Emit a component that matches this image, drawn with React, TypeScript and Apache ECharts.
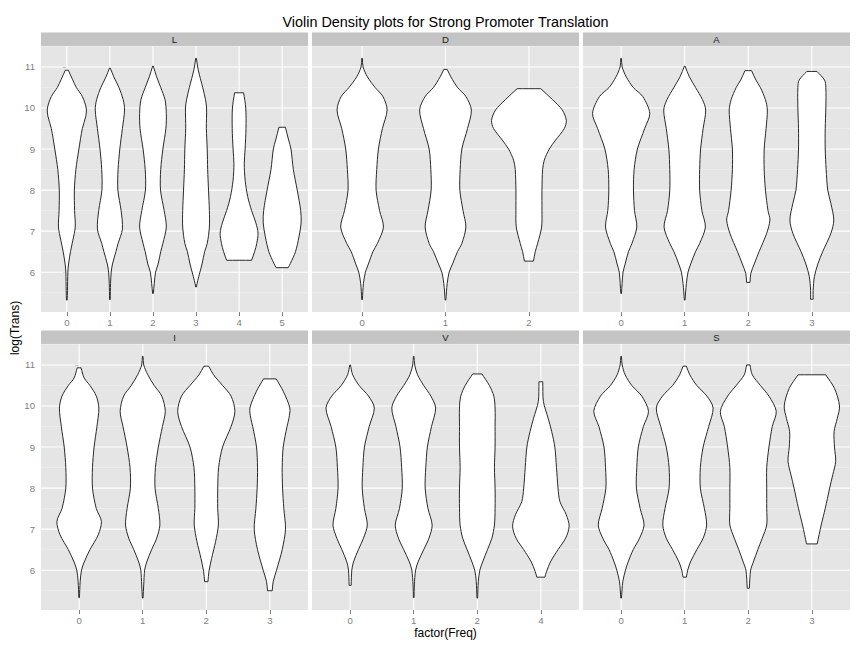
import React, { useEffect, useRef } from 'react';
import * as echarts from 'echarts';

// ---- categories / labels ----
const panelLabels = ['L', 'D', 'A', 'I', 'V', 'S'];
const catsL = ['0', '1', '2', '3', '4', '5'];
const catsD = ['0', '1', '2'];
const catsA = ['0', '1', '2', '3'];
const catsI = ['0', '1', '2', '3'];
const catsV = ['0', '1', '2', '4'];
const catsS = ['0', '1', '2', '3'];
const yTicks = [6, 7, 8, 9, 10, 11];
const yMinor = [5.5, 6.5, 7.5, 8.5, 9.5, 10.5, 11.5];
const Y_MIN = 5.03;
const Y_MAX = 11.51;

// ---- violin outlines: [log(Trans), half width in category units], bottom -> top ----
const violinL0 = [[5.32, 0.008], [5.55, 0.015], [6.0, 0.023], [6.2, 0.04], [6.5, 0.085], [6.78, 0.14], [7.1, 0.195], [7.5, 0.18], [8.0, 0.175], [8.5, 0.21], [9.0, 0.28], [9.5, 0.36], [9.8, 0.44], [10.0, 0.45], [10.28, 0.36], [10.5, 0.22], [10.7, 0.13], [10.92, 0.035]];
const violinL1 = [[5.33, 0.008], [5.72, 0.015], [6.0, 0.03], [6.2, 0.06], [6.5, 0.14], [6.7, 0.19], [7.05, 0.29], [7.5, 0.26], [8.0, 0.185], [8.5, 0.19], [9.0, 0.23], [9.5, 0.29], [9.95, 0.34], [10.2, 0.31], [10.5, 0.21], [10.76, 0.09], [10.97, 0.01]];
const violinL2 = [[5.48, 0.008], [5.72, 0.03], [6.0, 0.06], [6.2, 0.12], [6.5, 0.18], [6.7, 0.23], [7.1, 0.31], [7.5, 0.26], [8.0, 0.175], [8.5, 0.18], [9.0, 0.23], [9.5, 0.3], [9.87, 0.31], [10.2, 0.28], [10.5, 0.18], [10.76, 0.085], [11.02, 0.008]];
const violinL3 = [[5.64, 0.008], [5.8, 0.04], [6.0, 0.09], [6.2, 0.14], [6.5, 0.2], [6.7, 0.26], [7.1, 0.31], [7.5, 0.31], [8.0, 0.29], [8.5, 0.27], [9.0, 0.26], [9.5, 0.24], [10.0, 0.245], [10.2, 0.22], [10.5, 0.155], [10.93, 0.05], [11.21, 0.008]];
const violinL4 = [[6.29, 0.29], [6.5, 0.36], [6.7, 0.41], [6.95, 0.44], [7.2, 0.39], [7.5, 0.29], [7.84, 0.2], [8.24, 0.14], [8.65, 0.12], [9.0, 0.14], [9.5, 0.16], [10.0, 0.155], [10.37, 0.105]];
const violinL5 = [[6.11, 0.14], [6.21, 0.19], [6.5, 0.31], [6.86, 0.39], [7.2, 0.44], [7.5, 0.43], [8.0, 0.35], [8.5, 0.26], [9.0, 0.205], [9.22, 0.15], [9.53, 0.075]];

const violinD0 = [[5.33, 0.004], [5.72, 0.016], [6.0, 0.04], [6.2, 0.076], [6.5, 0.13], [6.7, 0.184], [7.1, 0.256], [7.5, 0.21], [8.0, 0.168], [8.5, 0.176], [9.0, 0.196], [9.5, 0.244], [9.95, 0.3], [10.28, 0.25], [10.5, 0.156], [10.76, 0.064], [11.0, 0.012], [11.21, 0.004]];
const violinD1 = [[5.32, 0.004], [5.72, 0.02], [6.0, 0.044], [6.2, 0.084], [6.5, 0.144], [6.7, 0.196], [7.1, 0.244], [7.5, 0.21], [8.0, 0.172], [8.5, 0.176], [9.0, 0.196], [9.5, 0.264], [9.95, 0.31], [10.28, 0.244], [10.5, 0.144], [10.76, 0.064], [10.94, 0.02]];
const violinD2 = [[6.27, 0.054], [6.5, 0.076], [6.7, 0.104], [7.1, 0.152], [7.5, 0.156], [8.0, 0.156], [8.5, 0.164], [8.73, 0.184], [9.0, 0.244], [9.22, 0.32], [9.5, 0.424], [9.7, 0.448], [9.95, 0.4], [10.2, 0.284], [10.47, 0.142]];

const violinA0 = [[5.48, 0.005], [5.72, 0.015], [6.0, 0.03], [6.2, 0.063], [6.5, 0.115], [6.7, 0.17], [7.1, 0.246], [7.5, 0.21], [8.0, 0.194], [8.5, 0.204], [9.0, 0.256], [9.5, 0.37], [9.87, 0.45], [10.28, 0.34], [10.5, 0.19], [10.76, 0.08], [11.0, 0.016], [11.21, 0.005]];
const violinA1 = [[5.32, 0.005], [5.72, 0.026], [6.0, 0.052], [6.2, 0.094], [6.5, 0.17], [6.7, 0.235], [7.1, 0.325], [7.5, 0.27], [8.0, 0.235], [8.5, 0.235], [9.0, 0.25], [9.5, 0.29], [9.95, 0.33], [10.2, 0.28], [10.5, 0.17], [10.76, 0.073], [11.02, 0.005]];
const violinA2 = [[5.75, 0.026], [5.97, 0.04], [6.2, 0.094], [6.5, 0.17], [6.95, 0.29], [7.27, 0.34], [7.5, 0.31], [8.0, 0.27], [8.5, 0.25], [9.0, 0.25], [9.5, 0.28], [9.95, 0.3], [10.2, 0.27], [10.5, 0.19], [10.68, 0.12], [10.91, 0.052]];
const violinA3 = [[5.34, 0.02], [5.56, 0.02], [5.89, 0.04], [6.2, 0.094], [6.5, 0.17], [6.95, 0.3], [7.27, 0.345], [7.67, 0.3], [8.0, 0.25], [8.5, 0.225], [9.0, 0.21], [9.5, 0.21], [10.0, 0.22], [10.5, 0.22], [10.68, 0.2], [10.89, 0.08]];

const violinI0 = [[5.33, 0.005], [5.72, 0.016], [6.0, 0.037], [6.2, 0.08], [6.5, 0.17], [6.86, 0.3], [7.19, 0.35], [7.5, 0.27], [8.0, 0.21], [8.5, 0.21], [9.0, 0.235], [9.5, 0.28], [9.95, 0.31], [10.24, 0.27], [10.5, 0.17], [10.68, 0.08], [10.93, 0.03]];
const violinI1 = [[5.32, 0.005], [5.64, 0.016], [6.0, 0.03], [6.2, 0.063], [6.5, 0.14], [6.78, 0.22], [7.1, 0.27], [7.5, 0.246], [8.0, 0.194], [8.5, 0.2], [9.0, 0.246], [9.5, 0.31], [9.87, 0.355], [10.24, 0.3], [10.5, 0.18], [10.76, 0.08], [11.0, 0.016], [11.21, 0.005]];
const violinI2 = [[5.72, 0.026], [5.97, 0.042], [6.29, 0.084], [6.7, 0.147], [7.1, 0.19], [7.5, 0.18], [8.0, 0.18], [8.5, 0.194], [9.0, 0.256], [9.5, 0.39], [9.87, 0.45], [10.24, 0.39], [10.5, 0.256], [10.76, 0.115], [10.97, 0.037]];
const violinI3 = [[5.5, 0.037], [5.72, 0.052], [6.0, 0.105], [6.5, 0.194], [7.0, 0.246], [7.5, 0.22], [8.0, 0.2], [8.5, 0.194], [9.0, 0.21], [9.5, 0.27], [9.7, 0.3], [9.95, 0.314], [10.36, 0.21], [10.66, 0.1]];

const violinV0 = [[5.63, 0.016], [6.0, 0.026], [6.2, 0.052], [6.5, 0.13], [6.78, 0.21], [7.1, 0.27], [7.5, 0.225], [8.0, 0.19], [8.5, 0.2], [9.0, 0.225], [9.5, 0.3], [9.95, 0.38], [10.24, 0.29], [10.5, 0.14], [10.76, 0.04], [11.0, 0.005]];
const violinV1 = [[5.33, 0.005], [5.64, 0.01], [6.0, 0.03], [6.2, 0.068], [6.5, 0.157], [6.78, 0.24], [7.1, 0.29], [7.5, 0.225], [8.0, 0.18], [8.5, 0.19], [9.0, 0.215], [9.5, 0.28], [9.95, 0.345], [10.24, 0.27], [10.5, 0.157], [10.76, 0.06], [11.0, 0.016], [11.21, 0.005]];
const violinV2 = [[5.32, 0.005], [5.72, 0.016], [6.0, 0.04], [6.2, 0.084], [6.5, 0.16], [6.78, 0.23], [7.1, 0.27], [7.5, 0.28], [8.0, 0.28], [8.5, 0.27], [9.0, 0.28], [9.5, 0.28], [9.95, 0.28], [10.24, 0.26], [10.5, 0.19], [10.78, 0.073]];
const violinV4 = [[5.83, 0.063], [5.97, 0.09], [6.2, 0.15], [6.5, 0.27], [6.78, 0.39], [7.07, 0.445], [7.35, 0.4], [7.67, 0.3], [8.0, 0.27], [8.5, 0.246], [9.0, 0.22], [9.38, 0.17], [9.7, 0.115], [10.11, 0.04], [10.59, 0.03]];

const violinS0 = [[5.32, 0.005], [5.72, 0.026], [6.0, 0.068], [6.2, 0.11], [6.5, 0.19], [6.78, 0.29], [7.1, 0.36], [7.5, 0.3], [8.0, 0.24], [8.5, 0.246], [9.0, 0.27], [9.5, 0.35], [9.87, 0.43], [10.24, 0.325], [10.5, 0.168], [10.76, 0.063], [11.0, 0.016], [11.21, 0.005]];
const violinS1 = [[5.83, 0.026], [6.0, 0.047], [6.2, 0.09], [6.5, 0.19], [6.78, 0.29], [7.1, 0.345], [7.5, 0.31], [8.0, 0.246], [8.5, 0.246], [9.0, 0.29], [9.5, 0.377], [9.95, 0.447], [10.24, 0.35], [10.5, 0.19], [10.76, 0.08], [10.97, 0.026]];
const violinS2 = [[5.56, 0.016], [6.0, 0.037], [6.2, 0.08], [6.5, 0.15], [6.78, 0.22], [7.1, 0.29], [7.5, 0.29], [8.0, 0.29], [8.5, 0.29], [9.0, 0.325], [9.5, 0.377], [9.87, 0.44], [10.24, 0.325], [10.5, 0.19], [10.76, 0.063], [11.0, 0.026]];
const violinS3 = [[6.64, 0.084], [7.1, 0.147], [7.5, 0.21], [8.0, 0.28], [8.33, 0.33], [8.65, 0.375], [9.0, 0.356], [9.38, 0.35], [9.7, 0.4], [10.0, 0.435], [10.43, 0.356], [10.76, 0.217]];

const panelCats = [catsL, catsD, catsA, catsI, catsV, catsS];
const panelViolins = [
  [violinL0, violinL1, violinL2, violinL3, violinL4, violinL5],
  [violinD0, violinD1, violinD2],
  [violinA0, violinA1, violinA2, violinA3],
  [violinI0, violinI1, violinI2, violinI3],
  [violinV0, violinV1, violinV2, violinV4],
  [violinS0, violinS1, violinS2, violinS3],
];

// ---- layout ----
const COL_LEFT = [41, 312, 583];
const ROW_TOP = [46, 344];
const PW = 267;
const PH = 266;
const STRIP_H = 13.5;
const FONT = 'Liberation Sans';

function buildOption() {
  const grid: any[] = [];
  const xAxis: any[] = [];
  const yAxis: any[] = [];
  const series: any[] = [];
  const graphic: any[] = [];

  panelLabels.forEach((label, i) => {
    const col = i % 3;
    const row = Math.floor(i / 3);
    const cats = panelCats[i];
    const idx = cats.map((_, k) => k);
    grid.push({
      left: COL_LEFT[col], top: ROW_TOP[row], width: PW, height: PH,
      show: true, backgroundColor: '#E5E5E5', borderWidth: 0, borderColor: 'transparent',
    });
    xAxis.push({
      gridIndex: i, type: 'value', min: -0.6, max: cats.length - 0.4,
      splitLine: { show: false }, axisLine: { show: false },
      axisTick: { show: true, customValues: idx, length: 4, lineStyle: { color: '#7F7F7F', width: 1 } },
      axisLabel: {
        customValues: idx, margin: 5, color: '#7F7F7F', fontSize: 9.6, fontFamily: FONT,
        formatter: (v: number) => cats[Math.round(v)] ?? '',
      },
    });
    const showY = col === 0;
    yAxis.push({
      gridIndex: i, type: 'value', min: Y_MIN, max: Y_MAX,
      splitLine: { show: false }, axisLine: { show: false },
      axisTick: { show: showY, customValues: yTicks, length: 4, lineStyle: { color: '#7F7F7F', width: 1 } },
      axisLabel: {
        show: showY, customValues: yTicks, margin: 6, color: '#7F7F7F', fontSize: 9.6, fontFamily: FONT,
      },
    });

    // minor horizontal grid lines
    series.push({
      type: 'custom', xAxisIndex: i, yAxisIndex: i, z: 1, silent: true,
      data: yMinor.map((v) => [0, v]),
      renderItem: (params: any, api: any) => {
        const cs = params.coordSys;
        const y = api.coord([0, api.value(1)])[1];
        return { type: 'line', shape: { x1: cs.x, y1: y, x2: cs.x + cs.width, y2: y }, style: { stroke: '#F2F2F2', lineWidth: 0.55 } };
      },
    });
    // major horizontal grid lines
    series.push({
      type: 'custom', xAxisIndex: i, yAxisIndex: i, z: 2, silent: true,
      data: yTicks.map((v) => [0, v]),
      renderItem: (params: any, api: any) => {
        const cs = params.coordSys;
        const y = api.coord([0, api.value(1)])[1];
        return { type: 'line', shape: { x1: cs.x, y1: y, x2: cs.x + cs.width, y2: y }, style: { stroke: '#FFFFFF', lineWidth: 1.1 } };
      },
    });
    // vertical grid lines at categories
    series.push({
      type: 'custom', xAxisIndex: i, yAxisIndex: i, z: 2, silent: true,
      data: idx.map((k) => [k, 8]),
      renderItem: (params: any, api: any) => {
        const cs = params.coordSys;
        const x = api.coord([api.value(0), 8])[0];
        return { type: 'line', shape: { x1: x, y1: cs.y, x2: x, y2: cs.y + cs.height }, style: { stroke: '#FFFFFF', lineWidth: 1.1 } };
      },
    });
    // violins
    const violins = panelViolins[i];
    series.push({
      type: 'custom', xAxisIndex: i, yAxisIndex: i, z: 3, silent: true,
      data: violins.map((_, k) => [k, 8]),
      renderItem: (params: any, api: any) => {
        const shape = violins[params.dataIndex];
        const cx = api.value(0);
        const right = shape.map(([y, w]) => api.coord([cx + w, y]));
        const left = shape.slice().reverse().map(([y, w]) => api.coord([cx - w, y]));
        // repeat the end points of each side so that the flat caps keep sharp corners
        const pts = [right[0], ...right, right[right.length - 1], left[0], ...left, left[left.length - 1]];
        return {
          type: 'polygon',
          shape: { points: pts, smooth: 0.3 },
          style: { fill: '#FFFFFF', stroke: '#2A2A2A', lineWidth: 1 },
        };
      },
    });

    // strip
    graphic.push({
      type: 'rect', left: COL_LEFT[col], top: ROW_TOP[row] - STRIP_H, silent: true,
      shape: { width: PW, height: STRIP_H }, style: { fill: '#C4C4C4' },
    });
    graphic.push({
      type: 'text', x: COL_LEFT[col] + PW / 2, y: ROW_TOP[row] - STRIP_H / 2, silent: true,
      style: { text: label, fill: '#1A1A1A', fontSize: 9.6, fontFamily: FONT, fontWeight: 'normal', textAlign: 'center', textVerticalAlign: 'middle' },
    });
  });

  const plotCenterX = (COL_LEFT[0] + COL_LEFT[2] + PW) / 2;
  graphic.push({
    type: 'text', x: plotCenterX, y: 21.5, silent: true,
    style: { text: 'Violin Density plots for Strong Promoter Translation', fill: '#000', fontSize: 14.4, fontFamily: FONT, textAlign: 'center', textVerticalAlign: 'middle' },
  });
  graphic.push({
    type: 'text', x: plotCenterX, y: 633, silent: true,
    style: { text: 'factor(Freq)', fill: '#000', fontSize: 12, fontFamily: FONT, textAlign: 'center', textVerticalAlign: 'middle' },
  });
  graphic.push({
    type: 'text', x: 14.5, y: (ROW_TOP[0] + ROW_TOP[1] + PH) / 2, rotation: Math.PI / 2, silent: true,
    style: { text: 'log(Trans)', fill: '#000', fontSize: 12, fontFamily: FONT, textAlign: 'center', textVerticalAlign: 'middle' },
  });

  return {
    animation: false,
    backgroundColor: '#FFFFFF',
    textStyle: { fontFamily: FONT },
    grid, xAxis, yAxis, series, graphic,
  };
}

export default function App() {
  const ref = useRef<HTMLDivElement>(null);
  useEffect(() => {
    if (!ref.current) return;
    const chart = echarts.init(ref.current, undefined, { renderer: 'svg' });
    chart.setOption(buildOption() as any);
    return () => chart.dispose();
  }, []);
  return <div ref={ref} style={{ position: 'fixed', left: 0, top: 0, width: 864, height: 648 }} />;
}
